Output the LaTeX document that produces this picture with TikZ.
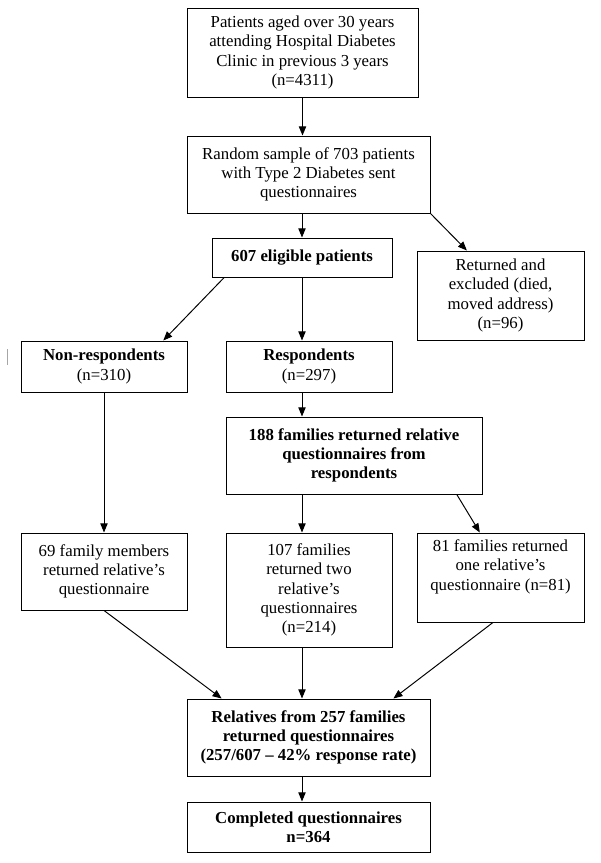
\documentclass[tikz,border=0pt]{standalone}
\usepackage{fontspec}
\setmainfont{Liberation Serif}
\usetikzlibrary{positioning, arrows.meta, calc}

\begin{document}
\begin{tikzpicture}[x=0.715pt, y=-0.715pt,
    box/.style={rectangle, draw, line width=0.7pt, align=center, inner sep=2pt,
      font=\fontsize{12}{13.8}\selectfont},
    boldbox/.style={box, font=\fontsize{12}{13.8}\selectfont\bfseries},
    wh/.style 2 args={minimum width=#1*0.715pt, minimum height=#2*0.715pt},
    link/.style={->, line width=0.7pt},
    >={Triangle[length=6.5pt,width=5.2pt]}]
  \useasboundingbox (0,0) rectangle (600,863);
  % Nodes
  \node[box, wh={231}{89}] (top) at (302.5,52.5)
    {Patients aged over 30 years\\attending Hospital Diabetes\\Clinic in previous 3 years\\(n=4311)};
  \node[box, wh={243}{77}] (random) at (308.5,174.5)
    {Random sample of 703 patients\\with Type 2 Diabetes sent\\questionnaires};
  \node[boldbox, wh={180}{39}] (eligible) at (302,257.5) {607 eligible patients};
  \node[box, wh={167}{89}] (returned) at (500.5,295.5)
    {Returned and\\excluded (died,\\moved address)\\(n=96)};
  \node[box, wh={166}{51}] (nonresp) at (104,366.5) {\textbf{Non-respondents}\\(n=310)};
  \node[box, wh={166}{51}] (resp) at (309,366.5) {\textbf{Respondents}\\(n=297)};
  \node[boldbox, wh={256}{77}] (fam188) at (354,455.5)
    {188 families returned relative\\questionnaires from\\respondents};
  \node[box, wh={166}{77}] (fam69) at (104,571.5)
    {69 family members\\returned relative’s\\questionnaire};
  \node[box, wh={166}{114}] (fam107) at (309,590)
    {107 families\\returned two\\relative’s\\questionnaires\\(n=214)};
  \node[box, wh={167}{89}] (fam81) at (500.5,577.5)
    {81 families returned\\one relative’s\\questionnaire (n=81)\\\strut};
  \node[boldbox, wh={243}{77}] (relatives) at (308.5,737.5)
    {Relatives from 257 families\\returned questionnaires\\(257/607 – 42\% response rate)};
  \node[boldbox, wh={243}{50}] (completed) at (308.5,827)
    {Completed questionnaires\\n=364};
  \coordinate (mid) at (302,0);
  \draw[gray!70, line width=0.6pt] (7,349) -- (7,365);

  % Arrows
  \draw[link] (top.south) -- (top.south |- random.north);
  \draw[link] (mid |- random.south) -- (mid |- eligible.north);
  \draw[link] (random.south east) -- ($(returned.north west)!0.3!(returned.north east)$);
  \draw[link] ($(eligible.south west)!0.07!(eligible.south east)$) -- ($(nonresp.north west)!0.855!(nonresp.north east)$);
  \draw[link] (mid |- eligible.south) -- (mid |- resp.north);
  \draw[link] (mid |- resp.south) -- (mid |- fam188.north);
  \draw[link] (nonresp.south) -- (fam69.north);
  \draw[link] (mid |- fam188.south) -- (mid |- fam107.north);
  \draw[link] ($(fam188.south west)!0.9!(fam188.south east)$) -- ($(fam81.north west)!0.377!(fam81.north east)$);
  \draw[link] (fam69.south) -- ($(relatives.north west)!0.144!(relatives.north east)$);
  \draw[link] (mid |- fam107.south) -- (mid |- relatives.north);
  \draw[link] ($(fam81.south west)!0.455!(fam81.south east)$) -- ($(relatives.north west)!0.848!(relatives.north east)$);
  \draw[link] (mid |- relatives.south) -- (mid |- completed.north);
\end{tikzpicture}
\end{document}
